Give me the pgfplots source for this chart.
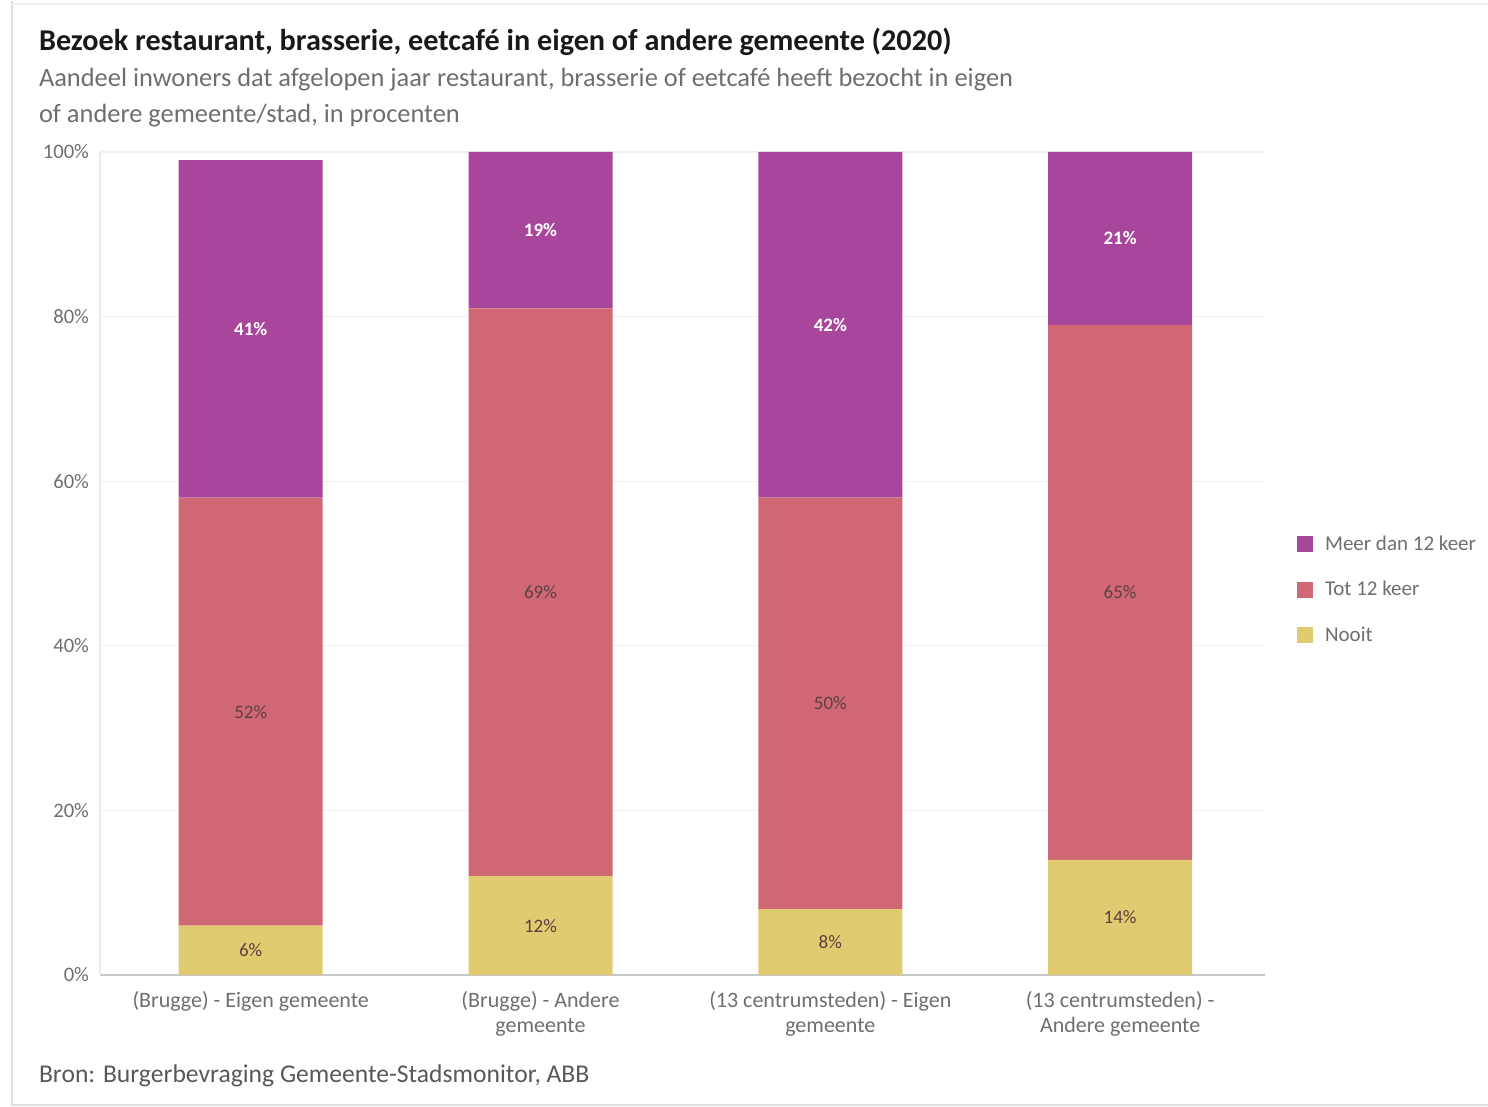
\documentclass[border=0pt]{standalone}
\usepackage{pgfplots}
\pgfplotsset{compat=1.18}
\usepackage{fontspec}
\setmainfont{Carlito}
\definecolor{cMeer}{HTML}{A8469B}
\definecolor{cTot}{HTML}{CF6874}
\definecolor{cNooit}{HTML}{E0CB70}
\definecolor{txtgrey}{HTML}{6E6E6E}
\definecolor{labdark}{HTML}{5E3F42}
\begin{document}
\begin{tikzpicture}
\path[use as bounding box] (0pt,0pt) rectangle (744pt,553.5pt);
\draw[color=black!12,line width=1pt] (6pt,553pt) -- (6pt,1pt) -- (744pt,1pt);
\draw[color=black!6,line width=0.6pt] (6pt,551.5pt) -- (744pt,551.5pt);
\node[anchor=west,font=\fontsize{15.1}{17}\selectfont\bfseries,text=black!90] at (16pt,532.5pt) {Bezoek restaurant, brasserie, eetcafé in eigen of andere gemeente (2020)};
\node[anchor=west,font=\fontsize{13.2}{15}\selectfont,text=txtgrey] at (16pt,513.5pt) {Aandeel inwoners dat afgelopen jaar restaurant, brasserie of eetcafé heeft bezocht in eigen};
\node[anchor=west,font=\fontsize{13.2}{15}\selectfont,text=txtgrey] at (16pt,495.5pt) {of andere gemeente/stad, in procenten};
\node[anchor=west,font=\fontsize{12.8}{15}\selectfont,text=txtgrey!80!black] at (16pt,15.5pt) {Bron: Burgerbevraging Gemeente-Stadsmonitor, ABB};
\begin{axis}[
  at={(50pt,66pt)}, anchor=south west,
  scale only axis, width=582.5pt, height=411.5pt,
  ybar stacked, bar width=72pt,
  xmin=-0.52, xmax=3.5, ymin=0, ymax=100,
  xtick={0,1,2,3},
  xticklabels={{(Brugge) - Eigen gemeente},{(Brugge) - Andere\\gemeente},{(13 centrumsteden) - Eigen\\gemeente},{(13 centrumsteden) -\\Andere gemeente}},
  xticklabel style={align=center,font=\fontsize{11}{12.5}\selectfont,text=txtgrey,yshift=-4.5pt},
  ytick={0,20,40,60,80,100},
  yticklabel={\pgfmathprintnumber{\tick}\%},
  yticklabel style={font=\fontsize{10.3}{11}\selectfont,text=txtgrey,xshift=-2pt},
  /pgf/number format/assume math mode=true,
  major tick length=0pt,
  ymajorgrids, grid style={color=black!6,line width=0.6pt},
  axis x line*=bottom, axis y line*=left,
  x axis line style={color=black!22,line width=0.8pt},
  y axis line style={color=black!8,line width=0.6pt},
  axis line style={-},
  nodes near coords,
  point meta=explicit symbolic,
  every node near coord/.append style={anchor=center,font=\fontsize{9.5}{11}\selectfont},
  reverse legend,
  legend style={at={(1.022,0.468)},anchor=west,draw=none,fill=none,
    font=\fontsize{10.5}{12}\selectfont,text=txtgrey,row sep=10pt,
    /tikz/every even column/.append style={column sep=2pt}},
  legend cell align=left,
  legend image code/.code={\fill[#1] (0pt,-4pt) rectangle (8pt,4pt); \path (12pt,0pt);},
]
\addplot[fill=cNooit,draw=none,nodes near coords style={text=labdark}]
  table[meta=lab] {
x y lab
0 6 6\%
1 12 12\%
2 8 8\%
3 14 14\%
};
\addlegendentry{Nooit}
\addplot[fill=cTot,draw=none,nodes near coords style={text=labdark}]
  table[meta=lab] {
x y lab
0 52 52\%
1 69 69\%
2 50 50\%
3 65 65\%
};
\addlegendentry{Tot 12 keer}
\addplot[fill=cMeer,draw=none,nodes near coords style={text=white,font=\fontsize{9.5}{11}\selectfont\bfseries}]
  table[meta=lab] {
x y lab
0 41 41\%
1 19 19\%
2 42 42\%
3 21 21\%
};
\addlegendentry{Meer dan 12 keer}
\end{axis}
\end{tikzpicture}
\end{document}
